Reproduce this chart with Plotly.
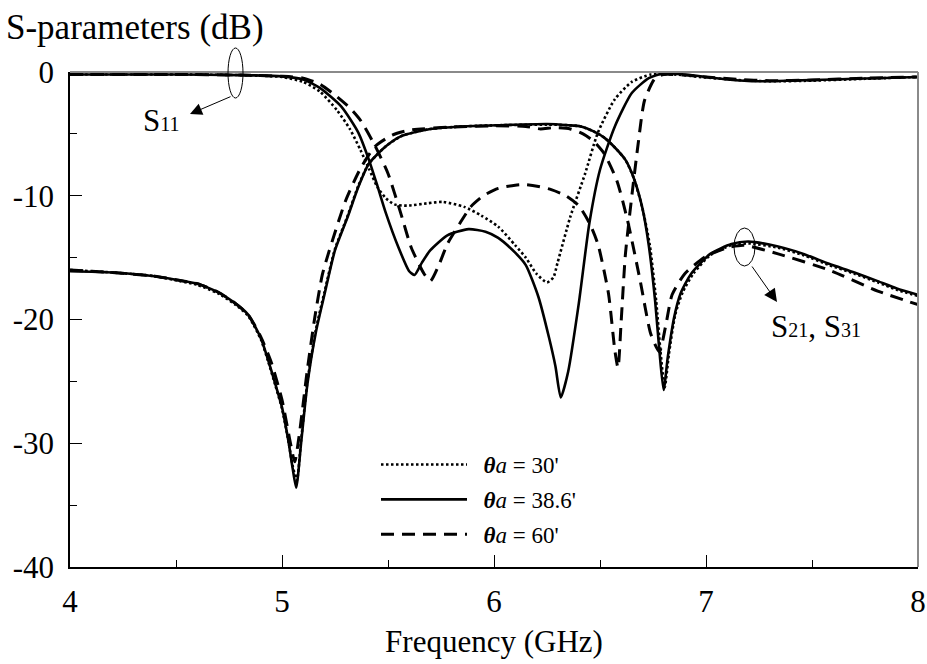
import plotly.graph_objects as go

# ---------------- data ----------------
# theta_a = 38.6' (solid)
f_s11_386 = [4.0, 4.5, 4.8, 5.0, 5.1, 5.18, 5.28, 5.36, 5.41, 5.45, 5.49, 5.55, 5.60, 5.625, 5.66, 5.70,
             5.78, 5.88, 5.96, 6.02, 6.10, 6.15, 6.21, 6.26, 6.29, 6.315, 6.35, 6.40, 6.45, 6.50, 6.57,
             6.65, 6.73, 6.80, 6.9, 7.0, 7.1, 7.25, 7.4, 7.6, 7.8, 8.0]
s11_386 = [-0.2, -0.2, -0.25, -0.35, -0.6, -1.3, -2.8, -4.9, -7.1, -9.2, -11.4, -14.2, -16.1, -16.4, -15.4, -14.4,
           -13.2, -12.7, -12.9, -13.4, -14.6, -15.6, -18.2, -21.5, -23.8, -26.3, -24.2, -18.7, -12.2, -7.9, -4.4,
           -1.7, -0.5, -0.1, -0.2, -0.4, -0.6, -0.75, -0.7, -0.6, -0.5, -0.4]
f_s21_386 = [4.0, 4.2, 4.4, 4.52, 4.6, 4.7, 4.78, 4.84, 4.9, 4.935, 4.97, 5.0, 5.03, 5.05, 5.067, 5.09,
             5.12, 5.16, 5.20, 5.25, 5.31, 5.36, 5.41, 5.49, 5.56, 5.63, 5.70, 5.85, 6.02, 6.25, 6.35,
             6.41, 6.47, 6.52, 6.57, 6.62, 6.66, 6.70, 6.73, 6.76, 6.78, 6.80, 6.82, 6.85, 6.88, 6.93,
             7.02, 7.12, 7.2, 7.34, 7.46, 7.58, 7.70, 7.81, 7.9, 8.0]
s21_386 = [-16.1, -16.2, -16.5, -16.85, -17.1, -17.8, -18.7, -19.6, -21.5, -23.3, -25.3, -27.1, -29.8, -32.0, -33.6, -30.0,
           -25.2, -21.0, -18.0, -14.4, -11.7, -9.3, -7.4, -6.0, -5.2, -4.85, -4.6, -4.4, -4.3, -4.2, -4.3,
           -4.4, -4.8, -5.3, -6.1, -7.1, -8.6, -11.0, -14.0, -18.5, -22.5, -25.7, -23.0, -19.8, -17.9, -16.3,
           -14.7, -13.9, -13.7, -14.1, -14.7, -15.5, -16.2, -16.9, -17.5, -18.0]

# theta_a = 30' (dotted)
f_s11_30 = [4.0, 4.5, 4.8, 5.0, 5.1, 5.18, 5.26, 5.32, 5.37, 5.41, 5.45, 5.49, 5.53, 5.59, 5.69, 5.76,
            5.86, 5.94, 6.02, 6.10, 6.15, 6.20, 6.25, 6.28, 6.30, 6.36, 6.43, 6.49, 6.57, 6.65, 6.74,
            6.85, 7.0, 7.15, 7.3, 7.5, 7.75, 8.0]
s11_30 = [-0.2, -0.2, -0.25, -0.4, -0.8, -1.6, -3.1, -4.6, -6.3, -7.8, -9.3, -10.2, -10.7, -10.8, -10.6, -10.5,
          -10.9, -11.6, -12.5, -14.0, -15.0, -16.3, -17.0, -16.6, -15.4, -11.7, -8.2, -4.9, -2.2, -0.8, -0.2,
          -0.2, -0.45, -0.65, -0.75, -0.7, -0.55, -0.4]
f_s21_30 = [4.0, 4.2, 4.4, 4.52, 4.6, 4.7, 4.78, 4.84, 4.9, 4.935, 4.97, 5.0, 5.03, 5.05, 5.07, 5.09,
            5.12, 5.16, 5.20, 5.25, 5.31, 5.36, 5.41, 5.49, 5.56, 5.63, 5.70, 5.85, 6.02, 6.25, 6.35,
            6.41, 6.47, 6.52, 6.57, 6.62, 6.66, 6.70, 6.735, 6.765, 6.785, 6.805, 6.825, 6.855, 6.89, 6.94,
            7.02, 7.12, 7.2, 7.34, 7.46, 7.58, 7.70, 7.81, 7.9, 8.0]
s21_30 = [-16.0, -16.2, -16.5, -16.9, -17.2, -17.9, -18.8, -19.7, -21.6, -23.4, -25.4, -27.2, -29.8, -31.8, -33.0, -29.8,
          -25.0, -20.8, -17.8, -14.3, -11.6, -9.2, -7.4, -6.0, -5.2, -4.85, -4.6, -4.4, -4.3, -4.25, -4.3,
          -4.4, -4.8, -5.3, -6.1, -7.1, -8.6, -11.0, -14.0, -18.5, -22.5, -25.5, -22.8, -19.6, -17.8, -16.3,
          -14.8, -14.0, -13.85, -14.2, -14.8, -15.6, -16.3, -17.0, -17.6, -18.1]

# theta_a = 60' (dashed)
f_s11_60 = [4.0, 4.5, 4.8, 5.0, 5.1, 5.18, 5.26, 5.32, 5.37, 5.44, 5.50, 5.56, 5.61, 5.67, 5.70, 5.74,
            5.78, 5.84, 5.89, 5.95, 6.02, 6.10, 6.15, 6.21, 6.27, 6.34, 6.40, 6.45, 6.49, 6.54, 6.57,
            6.585, 6.60, 6.62, 6.655, 6.68, 6.71, 6.76, 6.80, 6.9, 7.0, 7.15, 7.3, 7.5, 7.75, 8.0]
s11_60 = [-0.2, -0.2, -0.25, -0.35, -0.5, -1.0, -2.0, -2.9, -3.9, -6.0, -8.2, -11.4, -14.2, -16.3, -16.9, -15.6,
          -13.9, -12.2, -10.9, -10.0, -9.4, -9.15, -9.1, -9.25, -9.5, -10.0, -10.8, -12.2, -13.9, -17.9, -22.5,
          -23.9, -20.1, -14.7, -9.3, -5.8, -2.3, -0.5, -0.2, -0.25, -0.4, -0.6, -0.7, -0.65, -0.5, -0.4]
f_s21_60 = [4.0, 4.2, 4.4, 4.52, 4.6, 4.7, 4.78, 4.84, 4.9, 4.95, 5.0, 5.04, 5.06, 5.08, 5.12, 5.155,
            5.19, 5.22, 5.30, 5.37, 5.44, 5.52, 5.6, 5.8, 6.0, 6.15, 6.22, 6.28, 6.36, 6.42, 6.47,
            6.52, 6.58, 6.63, 6.69, 6.74, 6.78, 6.81, 6.84, 6.9, 7.0, 7.1, 7.18, 7.34, 7.58, 7.81, 8.0]
s21_60 = [-16.0, -16.2, -16.5, -16.85, -17.1, -17.8, -18.7, -19.6, -21.4, -23.5, -26.5, -30.0, -31.5, -29.5, -24.0, -19.8,
          -16.4, -14.6, -10.4, -7.8, -6.0, -5.1, -4.7, -4.45, -4.35, -4.4, -4.6, -4.5, -4.6, -5.0, -5.6,
          -6.6, -8.8, -12.0, -16.9, -21.2, -22.6, -20.5, -18.0, -16.3, -14.9, -14.2, -14.0, -14.7, -16.0, -17.7, -18.8]

legend_names = ["\u2002<b><i>θ</i></b><i>a</i> = 30'",
                "\u2002<b><i>θ</i></b><i>a</i> = 38.6'",
                "\u2002<b><i>θ</i></b><i>a</i> = 60'"]

x_ticks = [4, 5, 6, 7, 8]
x_ticktext = ["4", "5", "6", "7", "8"]
y_ticks = [0, -10, -20, -30, -40]
y_ticktext = ["0", "-10", "-20", "-30", "-40"]

FONT = "'Liberation Serif', 'Times New Roman', Times, 'DejaVu Serif', serif"

series = [
    (legend_names[0], f_s11_30, s11_30, f_s21_30, s21_30, dict(dash="2.5px,2.5px", width=2.6)),
    (legend_names[1], f_s11_386, s11_386, f_s21_386, s21_386, dict(dash="solid", width=2.6)),
    (legend_names[2], f_s11_60, s11_60, f_s21_60, s21_60, dict(dash="13px,8px", width=3)),
]

fig = go.Figure()
for i, (name, fa, ya, fb, yb, ls) in enumerate(series):
    grp = "g%d" % i
    fig.add_trace(go.Scatter(x=fa, y=ya, mode="lines", name=name, legendgroup=grp, showlegend=True,
                             line=dict(color="black", shape="spline", smoothing=0.6, **ls)))
    fig.add_trace(go.Scatter(x=fb, y=yb, mode="lines", name=name, legendgroup=grp, showlegend=False,
                             line=dict(color="black", shape="spline", smoothing=0.6, **ls)))

# plot area in pixels: x 70..918, y 72..567
def px(xp):
    return (xp - 70) / 848.0

def py(yp):
    return (567 - yp) / 495.0

shapes = [
    dict(type="line", xref="paper", yref="paper", x0=0, x1=1, y0=1, y1=1, line=dict(color="#8a8a8a", width=2)),
    dict(type="line", xref="paper", yref="paper", x0=1, x1=1, y0=0, y1=1, line=dict(color="#8a8a8a", width=2)),
    dict(type="circle", xref="paper", yref="paper", x0=px(228), x1=px(243), y0=py(98), y1=py(48),
         line=dict(color="black", width=1)),
    dict(type="circle", xref="paper", yref="paper", x0=px(734), x1=px(755), y0=py(266), y1=py(228),
         line=dict(color="black", width=1)),
]

annotations = [
    dict(text="S-parameters (dB)", xref="paper", yref="paper", x=px(4), y=py(27), xanchor="left",
         yanchor="middle", showarrow=False, font=dict(family=FONT, size=35, color="black")),
    dict(text="", xref="paper", yref="paper", x=px(190), y=py(114), ax=42, ay=-18, showarrow=True,
         arrowhead=2, arrowsize=2.4, arrowwidth=1, arrowcolor="black"),
    dict(text="", xref="paper", yref="paper", x=px(777), y=py(302), ax=-26, ay=-37, showarrow=True,
         arrowhead=2, arrowsize=2.6, arrowwidth=1, arrowcolor="black"),
    dict(text="S<span style='font-size:20px'>11</span>", xref="paper", yref="paper", x=px(161), y=py(121),
         xanchor="center", yanchor="middle", showarrow=False, font=dict(family=FONT, size=31, color="black")),
    dict(text="S<span style='font-size:20px'>21</span>, S<span style='font-size:20px'>31</span>",
         xref="paper", yref="paper", x=px(816), y=py(326),
         xanchor="center", yanchor="middle", showarrow=False, font=dict(family=FONT, size=31, color="black")),
]

fig.update_layout(
    width=927, height=664,
    margin=dict(l=70, r=9, t=72, b=97, autoexpand=False),
    paper_bgcolor="white", plot_bgcolor="white",
    font=dict(family=FONT, color="black"),
    shapes=shapes, annotations=annotations,
    showlegend=True,
    legend=dict(x=px(376), y=py(443), xanchor="left", yanchor="top", bgcolor="rgba(0,0,0,0)",
                font=dict(family=FONT, size=23, color="black"), itemwidth=86, tracegroupgap=2,
                traceorder="grouped"),
)
fig.update_xaxes(range=[4, 8], tickvals=x_ticks, ticktext=x_ticktext, ticks="inside", ticklen=12,
                 tickwidth=1, tickcolor="black", showline=True, linecolor="black", linewidth=1.5,
                 showgrid=False, zeroline=False, tickfont=dict(family=FONT, size=31, color="black"),
                 ticklabelstandoff=6, automargin=False,
                 minor=dict(dtick=0.5, ticks="inside", ticklen=7, tickcolor="black", showgrid=False),
                 title=dict(text="Frequency (GHz)", font=dict(family=FONT, size=31, color="black"), standoff=12))
fig.update_yaxes(range=[-40, 0], tickvals=y_ticks, ticktext=y_ticktext, ticks="inside", ticklen=12,
                 tickwidth=1, tickcolor="black", showline=True, linecolor="black", linewidth=1.5,
                 showgrid=False, zeroline=False, tickfont=dict(family=FONT, size=31, color="black"),
                 ticklabelstandoff=8, automargin=False,
                 minor=dict(dtick=5, ticks="inside", ticklen=7, tickcolor="black", showgrid=False))

fig.write_html("out.html")
